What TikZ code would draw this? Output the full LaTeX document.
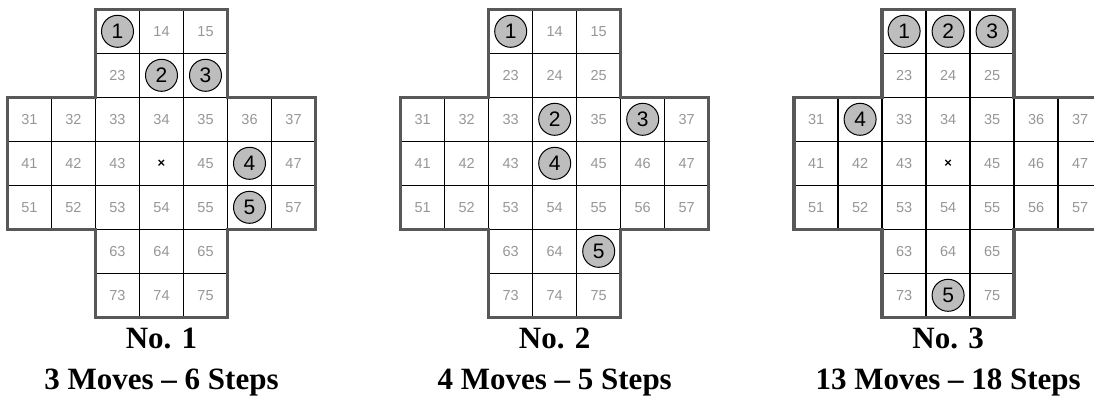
\documentclass[tikz,border=0pt]{standalone}
\usepackage{fontspec}
\setmainfont{Liberation Serif}
\newfontfamily\arialf{Liberation Sans}
\usetikzlibrary{positioning}
\definecolor{rimgray}{HTML}{585858}
\definecolor{peggray}{HTML}{BDBDBD}
\definecolor{numgray}{HTML}{969696}

% #1 board name, #2 left edge, #3 pegs as number/cell
\newcommand\puzzleboard[3]{%
  \foreach \p/\q in {#3}{\expandafter\xdef\csname peg#1\q\endcsname{\p}}%
  \foreach \r in {1,...,7}{%
    \foreach \c in {1,...,7}{%
      \pgfmathtruncatemacro\ok{or(and(\r>2,\r<6),and(\c>2,\c<6))}%
      \ifnum\ok=1
        \edef\id{\r\c}%
        \ifcsname peg#1\id\endcsname
          \edef\pn{\csname peg#1\id\endcsname}%
          \node[cell] (#1-\id) at ({#2+44*\c-22},{9.3+44*\r-22}) {};
          \node[peg] (#1-p\pn) at (#1-\id) {\pn};
        \else\ifnum\id=44
          \node[cell,text=black,font=\arialf\bfseries\fontsize{13}{15}\selectfont] (#1-\id)
            at ({#2+44*\c-22},{9.3+44*\r-22}) {×};
        \else
          \node[cell] (#1-\id) at ({#2+44*\c-22},{9.3+44*\r-22}) {\id};
        \fi\fi
      \fi
  }}%
  \draw[rim] (#1-13.north west) -- (#1-15.north east) -- (#1-35.north east) -- (#1-37.north east)
    -- (#1-57.south east) -- (#1-55.south east) -- (#1-75.south east) -- (#1-73.south west)
    -- (#1-53.south west) -- (#1-51.south west) -- (#1-31.north west) -- (#1-33.north west) -- cycle;
}

\begin{document}
\begin{tikzpicture}[x=1pt,y=-1pt,
  cell/.style={draw=black,line width=1.5pt,minimum size=44pt,inner sep=0pt,outer sep=0pt,
    text=numgray,font=\arialf\fontsize{14.5}{17}\selectfont},
  peg/.style={circle,draw=black,line width=1pt,fill=peggray,minimum size=32pt,inner sep=0pt,
    text=black,font=\arialf\fontsize{21}{25}\selectfont},
  rim/.style={draw=rimgray,line width=3.5pt,line join=miter},
  caption/.style={anchor=base,font=\bfseries\fontsize{31}{36}\selectfont}]
\useasboundingbox (0,0) rectangle (1094,396);
\puzzleboard{b1}{7.5}{1/13,2/24,3/25,4/46,5/56}
\puzzleboard{b2}{400.7}{1/13,2/34,3/36,4/44,5/65}
\puzzleboard{b3}{794.1}{1/13,2/14,3/15,4/32,5/74}
\node[caption] (b1-no) at (161.5,348.5) {No. 1};
\node[caption] (b1-mv) at (161.5,389.5) {3 Moves – 6 Steps};
\node[caption] (b2-no) at (554.7,348.5) {No. 2};
\node[caption] (b2-mv) at (554.7,389.5) {4 Moves – 5 Steps};
\node[caption] (b3-no) at (948.1,348.5) {No. 3};
\node[caption] (b3-mv) at (948.1,389.5) {13 Moves – 18 Steps};
\end{tikzpicture}
\end{document}
